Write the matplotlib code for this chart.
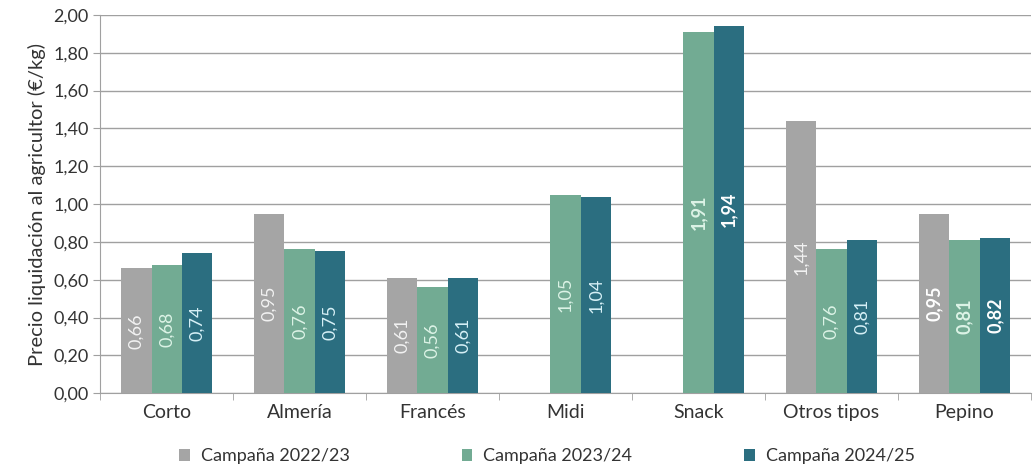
import numpy as np
import matplotlib
matplotlib.use('Agg')
import matplotlib.pyplot as plt
from matplotlib.ticker import MultipleLocator, FuncFormatter

plt.rcParams['font.family'] = ['Lato', 'DejaVu Sans']

# datos: precio de liquidación al agricultor (€/kg)
categorias = ['Corto', 'Almería', 'Francés', 'Midi', 'Snack', 'Otros tipos', 'Pepino']
campanas = ['Campaña 2022/23', 'Campaña 2023/24', 'Campaña 2024/25']
c_2022 = [0.66, 0.95, 0.61, np.nan, np.nan, 1.44, 0.95]
c_2023 = [0.68, 0.76, 0.56, 1.05, 1.91, 0.76, 0.81]
c_2024 = [0.74, 0.75, 0.61, 1.04, 1.94, 0.81, 0.82]
negrita = ['Snack', 'Pepino']

colores = ['#a5a5a5', '#72ab93', '#2b6e80']
colores_etiqueta = ['#f2f2f2', '#dcf3e6', '#d6f0f6']

fig = plt.figure(figsize=(10.33, 4.67), dpi=100)
ax = fig.add_axes([0.097, 0.158, 0.901, 0.81])

x = np.arange(len(categorias))
ancho = 0.228
series = [c_2022, c_2023, c_2024]
for i, serie in enumerate(series):
    pos = x + (i - 1) * ancho
    ax.bar(pos, serie, width=ancho, color=colores[i], label=campanas[i], zorder=3)
    for p, v, cat in zip(pos, serie, categorias):
        if np.isnan(v):
            continue
        peso = 'bold' if cat in negrita else 'normal'
        col = '#ffffff' if (cat in negrita and i != 1) else colores_etiqueta[i]
        ax.text(p, v / 2, ('%.2f' % v).replace('.', ','), rotation=90,
                ha='center', va='center', color=col, fontsize=13,
                fontweight=peso, zorder=4)

ax.set_xlim(-0.5, len(categorias) - 0.5)
ax.set_ylim(0, 2.0)
ax.yaxis.set_major_locator(MultipleLocator(0.2))
ax.yaxis.set_major_formatter(FuncFormatter(lambda v, p: ('%.2f' % v).replace('.', ',')))
ax.grid(axis='y', color='#a0a0a0', linewidth=1.0, zorder=0)
ax.set_xticks(x)
ax.set_xticklabels(categorias, fontsize=14, color='#333333')
ax.set_xticks(np.arange(len(categorias) + 1) - 0.5, minor=True)
ax.tick_params(axis='x', which='major', length=0, pad=8)
ax.tick_params(axis='x', which='minor', length=5, color='#a0a0a0')
ax.tick_params(axis='y', length=5, color='#a0a0a0', labelsize=13, labelcolor='#333333')
for lado in ['top', 'right']:
    ax.spines[lado].set_visible(False)
ax.spines['left'].set_color('#a0a0a0')
ax.spines['bottom'].set_color('#a0a0a0')
ax.set_ylabel('Precio liquidación al agricultor (€/kg)', fontsize=14.5, color='#333333', labelpad=5)

ax.legend(loc='upper center', bbox_to_anchor=(0.48, -0.112), ncol=3, frameon=False,
          fontsize=13, handlelength=0.6, handleheight=0.6, handletextpad=0.6,
          columnspacing=6.2, labelcolor='#333333', borderpad=0.2)

fig.savefig('out.png', dpi=100)
